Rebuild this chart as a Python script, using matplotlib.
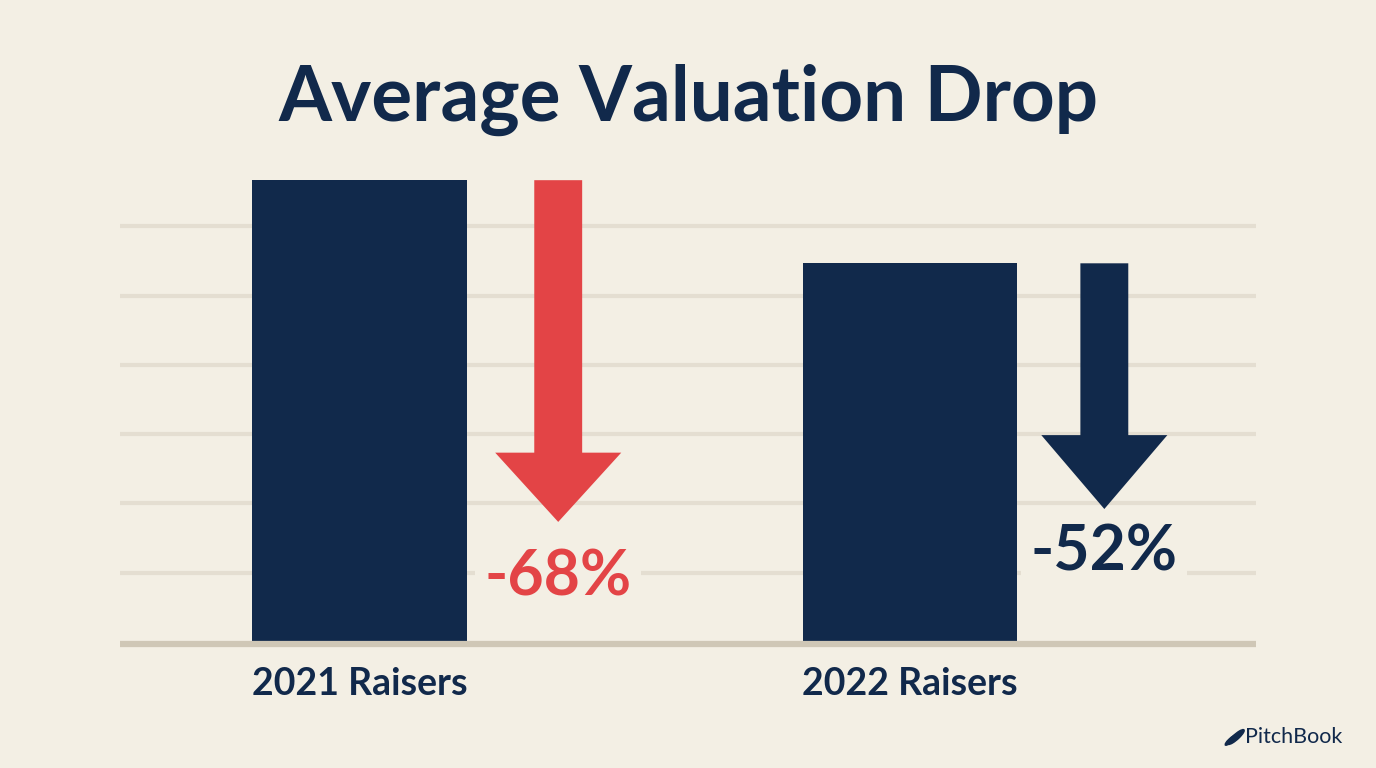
import matplotlib.pyplot as plt
from matplotlib.patches import FancyArrow, Ellipse

# データ
categories = ["2021 Raisers", "2022 Raisers"]
valuation = [100, 82]          # 相対的な評価額
arrow_end = [26, 28.8]         # 矢印の先端
head_len = [15, 16]
drops = ["-68%", "-52%"]
arrow_colors = ["#e34446", "#11294b"]
grid_values = [15, 30, 45, 60, 75, 90]

bg = "#f3efe4"
navy = "#11294b"

plt.rcParams['font.family'] = ['Lato', 'DejaVu Sans']

fig = plt.figure(figsize=(13.76, 7.68), dpi=100, facecolor=bg)
ax = fig.add_axes([120 / 1376, 126 / 768, 1136 / 1376, 508 / 768])
ax.set_facecolor(bg)
ax.set_xlim(-0.435, 1.6285)
ax.set_ylim(0, 110)
ax.axis("off")

# グリッド線
for g in grid_values:
    ax.axhline(g, color="#e4ded1", lw=3, zorder=0, solid_capstyle="butt")
ax.axhline(-0.5, color="#cfc7b6", lw=4.5, zorder=3, clip_on=False,
           solid_capstyle="butt")

x = range(len(categories))
ax.bar(x, valuation, width=0.39, color=navy, zorder=2)

offsets = [0.361, 0.353]
label_y = [13.9, 19.3]
for i in x:
    ax_x = i + offsets[i]
    ax.add_patch(FancyArrow(ax_x, valuation[i], 0, arrow_end[i] - valuation[i],
                            width=0.087, head_width=0.229, head_length=head_len[i],
                            length_includes_head=True, color=arrow_colors[i],
                            lw=0, zorder=4))
    ax.text(i, -9, categories[i], ha="center", va="center", fontsize=27,
            fontweight="bold", color=navy, clip_on=False)
    # ラベルの背景でグリッド線を隠す
    ax.text(ax_x, label_y[i], drops[i], ha="center", va="center", fontsize=45,
            fontweight="bold", color=arrow_colors[i], zorder=1,
            bbox=dict(boxstyle="square,pad=0.15", fc=bg, ec="none"))

fig.text(0.5, 1 - 100 / 768, "Average Valuation Drop", ha="center", va="center",
         fontsize=55, fontweight="bold", color=navy)

# ロゴ
fig.text(1245 / 1376, 1 - 737 / 768, "PitchBook", ha="left", va="center",
         fontsize=15.5, color=navy)
for dx, dy, w, h in [(1236, 737, 7, 17), (1231, 740, 5, 12)]:
    fig.add_artist(Ellipse((dx / 1376, 1 - dy / 768), w / 1376, h / 768,
                           angle=-30, color=navy, transform=fig.transFigure))

fig.savefig("out.png", dpi=100, facecolor=bg)
